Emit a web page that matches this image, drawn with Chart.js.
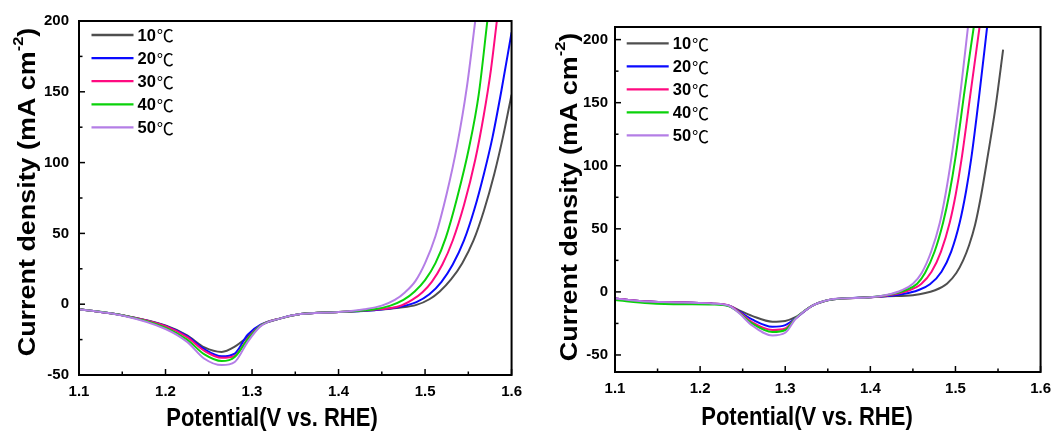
<!DOCTYPE html>
<html>
<head>
<meta charset="utf-8">
<script src="https://cdn.jsdelivr.net/npm/chart.js@4.4.0/dist/chart.umd.min.js"></script>
<style>
  html, body { margin: 0; padding: 0; background: #fff; }
  .box { position: absolute; top: 0; height: 432px; }
</style>
</head>
<body>
<div class="box" style="left:0;width:530px"><canvas id="chartA" width="530" height="432"></canvas></div>
<div class="box" style="left:530px;width:529px"><canvas id="chartB" width="529" height="432"></canvas></div>
<script>
// series names and colours
const seriesNames = ['10', '20', '30', '40', '50'];
const seriesColors = ['#4f4f4f', '#0a0aff', '#ff0a80', '#0ad20a', '#b47ee6'];

// x axis ticks (V vs. RHE)
const xTicks = [1.1, 1.2, 1.3, 1.4, 1.5, 1.6];
const yTicks = [-50, 0, 50, 100, 150, 200];

// left panel: potential (V) and current density (mA cm-2)
const potA10 = [1.10, 1.15, 1.20, 1.225, 1.245, 1.265, 1.28, 1.295, 1.31, 1.333, 1.356, 1.40, 1.44, 1.47, 1.49, 1.505, 1.517, 1.53, 1.543, 1.556, 1.568, 1.58, 1.59, 1.60];
const curA10 = [-3.5, -7.8, -15, -22, -30.5, -33.7, -30, -23, -15, -10, -7, -5.5, -4.2, -2.5, -0.5, 3.5, 9, 17.5, 29, 45, 66, 92, 118, 148];
const potA20 = [1.10, 1.15, 1.20, 1.225, 1.245, 1.265, 1.28, 1.295, 1.31, 1.333, 1.356, 1.40, 1.44, 1.47, 1.49, 1.505, 1.519, 1.532, 1.545, 1.557, 1.568, 1.578, 1.588, 1.60];
const curA20 = [-3.5, -7.8, -15.3, -22.5, -31.8, -36.8, -34.9, -21.5, -14.5, -10, -7, -5.5, -4.2, -2, 1.5, 7, 15.8, 28, 45, 67, 92, 118, 150, 192];
const potA30 = [1.10, 1.15, 1.20, 1.225, 1.245, 1.265, 1.28, 1.295, 1.31, 1.333, 1.356, 1.40, 1.44, 1.47, 1.485, 1.497, 1.508, 1.52, 1.532, 1.545, 1.558, 1.568, 1.576, 1.583];
const curA30 = [-3.5, -7.8, -15.5, -23.3, -33, -37.9, -36.5, -24.3, -15, -10, -7, -5.5, -4, -1.5, 3, 8.5, 16, 28, 45, 70, 102, 134, 165, 200];
const potA40 = [1.10, 1.15, 1.20, 1.225, 1.245, 1.265, 1.28, 1.295, 1.31, 1.333, 1.356, 1.40, 1.44, 1.46, 1.475, 1.488, 1.50, 1.512, 1.524, 1.537, 1.551, 1.562, 1.572];
const curA40 = [-3.5, -7.8, -16.5, -25, -35.5, -40.2, -37.3, -24.8, -15, -10, -7, -5.5, -3.8, -1, 3, 9, 17, 29, 47, 75, 111, 148, 200];
const potA50 = [1.10, 1.15, 1.20, 1.225, 1.245, 1.265, 1.28, 1.295, 1.31, 1.333, 1.356, 1.40, 1.43, 1.45, 1.465, 1.477, 1.489, 1.50, 1.512, 1.525, 1.537, 1.548, 1.558];
const curA50 = [-3.5, -8, -17.5, -26.6, -38.5, -43, -40.8, -26.6, -15.5, -10, -7, -5.5, -3.5, -1, 3, 8.5, 16.5, 29, 48, 78, 112, 152, 200];

// right panel
const potB10 = [1.10, 1.14, 1.18, 1.215, 1.234, 1.246, 1.261, 1.285, 1.30, 1.312, 1.3315, 1.351, 1.3665, 1.40, 1.42, 1.45, 1.476, 1.49, 1.501, 1.509, 1.516, 1.523, 1.53, 1.538, 1.547, 1.556];
const curB10 = [-5.3, -7.7, -8.5, -9.3, -11, -14.6, -19, -23.6, -23, -20, -11, -6.4, -5.2, -4.3, -3.5, -2.6, 1.3, 6.5, 15, 25, 37, 53, 76, 108, 146, 192];
const potB20 = [1.10, 1.14, 1.18, 1.215, 1.234, 1.246, 1.261, 1.285, 1.30, 1.312, 1.3315, 1.351, 1.3665, 1.40, 1.42, 1.44, 1.456, 1.47, 1.4836, 1.495, 1.505, 1.5125, 1.5186, 1.5283, 1.5372];
const curB20 = [-5.3, -7.7, -8.5, -9.3, -11, -15.5, -21.8, -27.6, -26.3, -21, -11, -6.4, -5.2, -4.3, -3.2, -1.5, 1.3, 6, 16, 32, 55, 80, 106, 158, 210];
const potB30 = [1.10, 1.14, 1.18, 1.215, 1.234, 1.246, 1.261, 1.285, 1.30, 1.312, 1.3315, 1.351, 1.3665, 1.40, 1.42, 1.446, 1.46, 1.4719, 1.483, 1.4933, 1.5005, 1.5069, 1.5178, 1.5283];
const curB30 = [-5.3, -7.7, -8.5, -9.3, -11, -16, -23.9, -30.2, -29, -21, -11, -6.4, -5.2, -4.3, -2.8, 1.3, 6.5, 16, 32, 55, 78, 104, 158, 210];
const potB40 = [1.10, 1.14, 1.18, 1.215, 1.234, 1.246, 1.261, 1.285, 1.30, 1.312, 1.3315, 1.351, 1.3665, 1.40, 1.42, 1.441, 1.455, 1.4642, 1.4755, 1.4855, 1.4929, 1.4999, 1.5108, 1.5215];
const curB40 = [-6.5, -9, -9.8, -10, -11.5, -16.5, -25, -31.8, -30.2, -21, -11, -6.4, -5.2, -4.3, -2.5, 1.3, 6.5, 15, 32, 55, 78, 106, 160, 210];
const potB50 = [1.10, 1.14, 1.18, 1.215, 1.234, 1.246, 1.261, 1.285, 1.30, 1.312, 1.3315, 1.351, 1.3665, 1.40, 1.42, 1.437, 1.45, 1.4603, 1.4715, 1.4817, 1.4885, 1.4952, 1.5062, 1.5147];
const curB50 = [-5.3, -7.7, -8.5, -9.3, -11, -17, -26.5, -34.5, -32.4, -21.5, -11, -6.4, -5.2, -4.3, -2.3, 1.3, 6.5, 15, 32, 55, 78, 106, 160, 210];

const FONT = "'Liberation Sans', Arial, sans-serif";

function pairs(xs, ys) {
    return xs.map((x, i) => ({ x: x, y: ys[i] }));
}

// cadre + petits traits vers l'intérieur
const framePlugin = {
    id: 'frame',
    afterDatasetsDraw(chart) {
        const { ctx, chartArea: a, scales: { x, y } } = chart;
        ctx.save();
        ctx.strokeStyle = '#000';
        ctx.lineWidth = 1.5;
        x.ticks.forEach((t, i) => {
            const px = x.getPixelForValue(t.value);
            ctx.beginPath(); ctx.moveTo(px, a.bottom); ctx.lineTo(px, a.bottom - 6); ctx.stroke();
            if (i < x.ticks.length - 1) {
                const mx = x.getPixelForValue((t.value + x.ticks[i + 1].value) / 2);
                ctx.beginPath(); ctx.moveTo(mx, a.bottom); ctx.lineTo(mx, a.bottom - 3.5); ctx.stroke();
            }
        });
        y.ticks.forEach((t, i) => {
            const py = y.getPixelForValue(t.value);
            ctx.beginPath(); ctx.moveTo(a.left, py); ctx.lineTo(a.left + 6, py); ctx.stroke();
            if (i < y.ticks.length - 1) {
                const my = y.getPixelForValue((t.value + y.ticks[i + 1].value) / 2);
                ctx.beginPath(); ctx.moveTo(a.left, my); ctx.lineTo(a.left + 3.5, my); ctx.stroke();
            }
        });
        ctx.lineWidth = 2;
        ctx.strokeRect(a.left, a.top, a.right - a.left, a.bottom - a.top);
        ctx.restore();
    }
};

// titres des axes et légende
const textPlugin = {
    id: 'texts',
    afterDraw(chart, args, opts) {
        const ctx = chart.ctx;
        ctx.save();
        ctx.fillStyle = '#000';
        // x title (a bit taller than wide, like the picture)
        ctx.translate(opts.xTitleX, opts.xTitleY);
        ctx.scale(1, 1.15);
        ctx.font = 'bold 22px ' + FONT;
        ctx.textAlign = 'center';
        ctx.textBaseline = 'alphabetic';
        ctx.fillText('Potential(V vs. RHE)', 0, 0);
        ctx.restore();

        // y title with superscript
        ctx.save();
        ctx.fillStyle = '#000';
        ctx.translate(opts.yTitleX, opts.yTitleY);
        ctx.rotate(-Math.PI / 2);
        ctx.scale(1.17, 1);
        const main = 'Current density (mA cm';
        const sup = '-2';
        const tail = ')';
        ctx.font = 'bold 23px ' + FONT;
        const w1 = ctx.measureText(main).width;
        const w3 = ctx.measureText(tail).width;
        ctx.font = 'bold 14px ' + FONT;
        const w2 = ctx.measureText(sup).width;
        const sx = -(w1 + w2 + w3) / 2;
        ctx.textAlign = 'left';
        ctx.textBaseline = 'middle';
        ctx.font = 'bold 23px ' + FONT;
        ctx.fillText(main, sx, 0);
        ctx.font = 'bold 14px ' + FONT;
        ctx.fillText(sup, sx + w1, -10);
        ctx.font = 'bold 23px ' + FONT;
        ctx.fillText(tail, sx + w1 + w2, 0);
        ctx.restore();

        // legend
        ctx.save();
        chart.data.datasets.forEach((ds, i) => {
            const ly = opts.legY + i * opts.legGap;
            ctx.strokeStyle = ds.borderColor;
            ctx.lineWidth = 2.3;
            ctx.beginPath(); ctx.moveTo(opts.legX, ly); ctx.lineTo(opts.legX + 42, ly); ctx.stroke();
            ctx.fillStyle = '#000';
            ctx.textAlign = 'left';
            ctx.textBaseline = 'middle';
            ctx.font = 'bold 16.5px ' + FONT;
            ctx.fillText(ds.label, opts.legX + 46, ly + 1);
            const nw = ctx.measureText(ds.label).width;
            ctx.font = "17px 'Noto Sans CJK SC', 'DejaVu Sans', sans-serif";
            ctx.fillText('℃', opts.legX + 47 + nw, ly + 1);
        });
        ctx.restore();
    }
};

function makeChart(id, pots, curs, yMin, yMax, box, texts) {
    const ctx = document.getElementById(id).getContext('2d');
    const datasets = seriesNames.map((name, i) => ({
        label: name,
        data: pairs(pots[i], curs[i]),
        borderColor: seriesColors[i],
        borderWidth: 2,
        pointRadius: 0,
        fill: false,
        cubicInterpolationMode: 'monotone',
        order: seriesNames.length - i
    }));
    return new Chart(ctx, {
        type: 'line',
        data: { datasets: datasets },
        options: {
            responsive: false,
            animation: false,
            layout: { padding: { left: 0, top: box.top, right: box.right, bottom: 0 } },
            plugins: { legend: { display: false }, tooltip: { enabled: false }, texts: texts },
            scales: {
                x: {
                    type: 'linear', min: 1.1, max: 1.6,
                    afterBuildTicks: s => { s.ticks = xTicks.map(v => ({ value: v })); },
                    afterFit: s => { s.height = box.xh; },
                    grid: { display: false, drawTicks: false, tickLength: 0 },
                    border: { display: false },
                    ticks: {
                        color: '#000', padding: 8, maxRotation: 0,
                        font: { family: FONT, size: 15, weight: 'bold' },
                        callback: v => v.toFixed(1)
                    }
                },
                y: {
                    type: 'linear', min: yMin, max: yMax,
                    afterBuildTicks: s => { s.ticks = yTicks.map(v => ({ value: v })); },
                    afterFit: s => { s.width = box.yw; },
                    grid: { display: false, drawTicks: false, tickLength: 0 },
                    border: { display: false },
                    ticks: {
                        color: '#000', padding: box.ypad,
                        font: { family: FONT, size: 15, weight: 'bold' }
                    }
                }
            }
        },
        plugins: [framePlugin, textPlugin]
    });
}

makeChart('chartA',
    [potA10, potA20, potA30, potA40, potA50],
    [curA10, curA20, curA30, curA40, curA50],
    -50, 200,
    { top: 21, right: 13, xh: 57, yw: 79, ypad: 10 },
    { xTitleX: 272, xTitleY: 426, yTitleX: 29, yTitleY: 192, legX: 91.5, legY: 35, legGap: 23.1 });

makeChart('chartB',
    [potB10, potB20, potB30, potB40, potB50],
    [curB10, curB20, curB30, curB40, curB50],
    -63.5, 210,
    { top: 27, right: 16, xh: 60, yw: 85, ypad: 7 },
    { xTitleX: 277, xTitleY: 425, yTitleX: 41, yTitleY: 197, legX: 96.7, legY: 43.3, legGap: 23 });
</script>
</body>
</html>
